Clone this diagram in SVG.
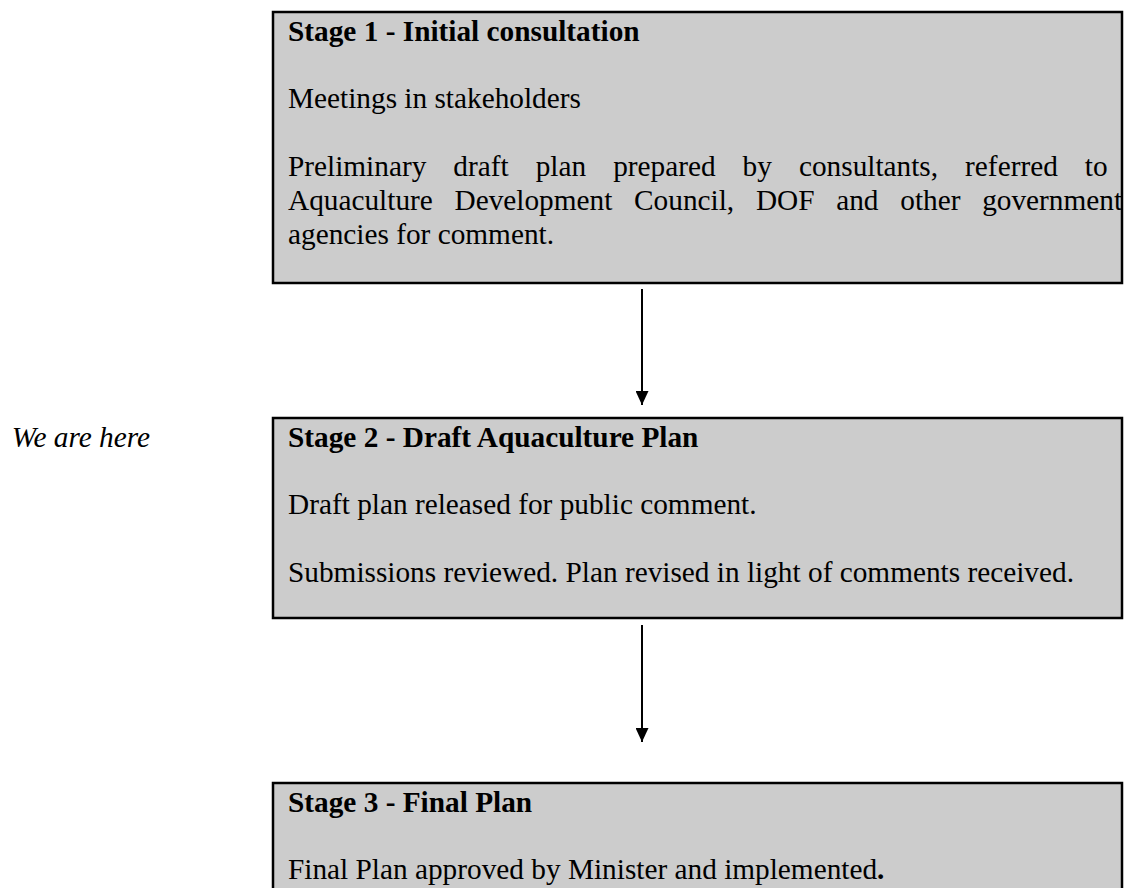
<svg xmlns="http://www.w3.org/2000/svg" width="1124" height="888" viewBox="0 0 1124 888">
<defs>
<marker id="ah" markerWidth="14" markerHeight="13" refX="14" refY="6.5" orient="auto" markerUnits="userSpaceOnUse" viewBox="0 0 14 13">
<path d="M0,0 L14,6.5 L0,13 Z" fill="#000"/>
</marker>
<style>
.box{fill:#cccccc;stroke:#000;stroke-width:2.5}
.t{font-family:"Liberation Serif","Times New Roman",serif;font-size:29.3px;fill:#000}
.b{font-weight:bold}
.i{font-style:italic}
.c{stroke:#000;stroke-width:2;fill:none}
</style>
</defs>
<rect width="1124" height="888" fill="#fff"/>
<g id="stage1">
<rect class="box" x="273" y="12" width="849" height="271"/>
<text class="t b" x="288" y="40.5">Stage 1 - Initial consultation</text>
<text class="t" x="288" y="108">Meetings in stakeholders</text>
<text class="t" x="288" y="176" word-spacing="19.7">Preliminary draft plan prepared by consultants, referred to</text>
<text class="t" x="288" y="210" word-spacing="14.4">Aquaculture Development Council, DOF and other government</text>
<text class="t" x="288" y="244">agencies for comment.</text>
</g>
<g id="label">
<text class="t i" x="150" y="446.5" text-anchor="end">We are here</text>
</g>
<g id="stage2">
<rect class="box" x="273" y="418" width="849" height="200"/>
<text class="t b" x="288" y="446.5">Stage 2 - Draft Aquaculture Plan</text>
<text class="t" x="288" y="514">Draft plan released for public comment.</text>
<text class="t" x="288" y="582">Submissions reviewed. Plan revised in light of comments received.</text>
</g>
<g id="stage3">
<rect class="box" x="273" y="783" width="849" height="130"/>
<text class="t b" x="288" y="811.5">Stage 3 - Final Plan</text>
<text class="t" x="288" y="879">Final Plan approved by Minister and implemented<tspan class="b">.</tspan></text>
</g>
<g id="connectors">
<line class="c" x1="642" y1="289" x2="642" y2="405" marker-end="url(#ah)"/>
<line class="c" x1="642" y1="625" x2="642" y2="742" marker-end="url(#ah)"/>
</g>
</svg>
